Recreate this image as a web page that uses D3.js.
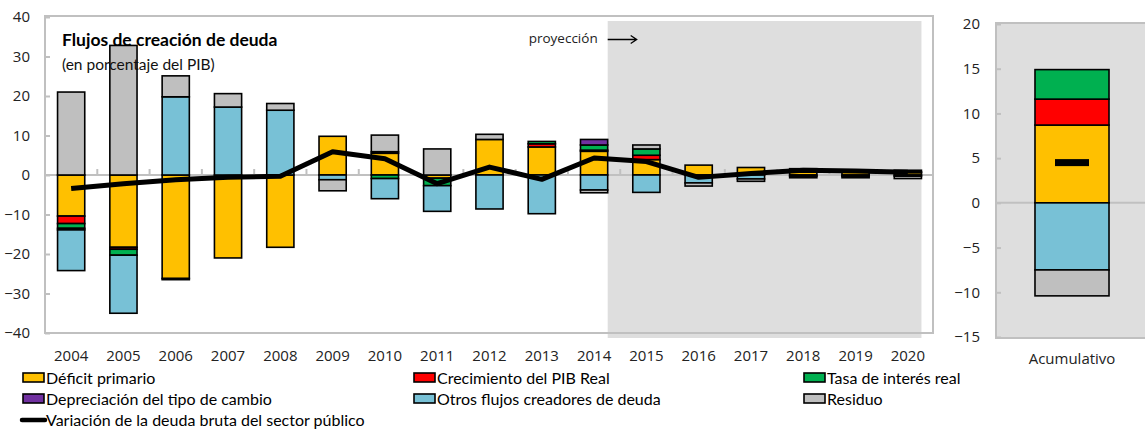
<!DOCTYPE html>
<html>
<head>
<meta charset="utf-8">
<script src="https://cdn.jsdelivr.net/npm/d3@7"></script>
<style>
  html, body { margin: 0; padding: 0; background: #fff; }
  svg { display: block; }
</style>
</head>
<body>
<svg id="chart" width="1145" height="429"></svg>
<script>
// Years on the category axis
const years = ["2004","2005","2006","2007","2008","2009","2010","2011","2012",
               "2013","2014","2015","2016","2017","2018","2019","2020"];
const projectionStart = "2015";

// Debt-creating flows, % of GDP
const deficitPrimario   = [-10.4,-18.3,-26.2,-21.0,-18.3, 9.8, 5.5,-0.8, 9.0, 7.1, 6.0, 3.9, 2.5, 1.9, 1.0, 0.8, 0.6];
const crecimientoPIB    = [ -1.9, -0.5, -0.3,  0.0,  0.0, 0.0, 0.4, 0.0, 0.0, 0.8, 0.3, 1.1, 0.0, 0.0, 0.3, 0.2, 0.2];
const tasaInteres       = [ -1.2, -1.5,  0.0,  0.0,  0.0, 0.0,-0.9,-1.9, 0.0, 0.6, 1.3, 1.6, 0.0, 0.0, 0.3, 0.2, 0.4];
const depreciacion      = [ -0.4,  0.0,  0.0,  0.0,  0.0, 0.0, 0.0, 0.0, 0.0, 0.0, 1.4, 0.0, 0.0, 0.0, 0.0, 0.0, 0.0];
const otrosFlujos       = [-10.3,-14.7, 19.8, 17.2, 16.4,-1.2,-5.1,-6.5,-8.6,-9.8,-3.8,-4.4,-2.0,-1.0,-0.3,-0.3,-0.3];
const residuo           = [ 21.0, 32.8,  5.3,  3.4,  1.7,-2.8, 4.2, 6.6, 1.3, 0.0,-0.7, 1.0,-0.8,-0.6,-0.4,-0.4,-0.6];
const variacionDeuda    = [ -3.4, -2.2, -1.2, -0.6, -0.3, 5.9, 4.1,-2.2, 2.0,-1.1, 4.3, 3.4,-0.6, 0.4, 1.2, 1.0, 0.7];

// Cumulative panel
const acumCategory = ["Acumulativo"];
const acumDeficit = [8.7], acumCrecimiento = [2.9], acumTasa = [3.3],
      acumDepreciacion = [0.0], acumOtros = [-7.5], acumResiduo = [-2.9], acumVariacion = [4.5];

// Axis ticks
const yTicksLeft  = [-40,-30,-20,-10,0,10,20,30,40];
const yTicksRight = [-15,-10,-5,0,5,10,15,20];

// Series names and colours
const seriesKeys = ["Déficit primario","Crecimiento del PIB Real","Tasa de interés real",
                    "Depreciación del tipo de cambio","Otros flujos creadores de deuda","Residuo"];
const seriesColors = ["#FFC000","#FF0000","#00B050","#7030A0","#78C1D6","#BFBFBF"];
const lineName = "Variación de la deuda bruta del sector público";
const titleText = "Flujos de creación  de deuda";
const subtitleText = "(en porcentaje del PIB)";
const projectionText = "proyección";

const svg = d3.select("#chart");
const color = d3.scaleOrdinal(seriesKeys, seriesColors);
const tickFont = "'Open Sans', 'Noto Sans', sans-serif";
const legendFont = "Lato, 'Noto Sans', sans-serif";
const tickSize = 15;
const frameGray = "#c0c0c0";
const bgGray = "#dedede";

function buildRows(cats, cols) {
  return cats.map((c, i) => {
    const row = { cat: c };
    seriesKeys.forEach((k, j) => row[k] = cols[j][i]);
    return row;
  });
}
const stack = d3.stack().keys(seriesKeys).offset(d3.stackOffsetDiverging);

// ---------- Left panel: annual flows ----------
const L = { left: 45, right: 934, top: 17, bottom: 333 };
const x = d3.scaleBand().domain(years).range([L.left, L.right]).paddingInner(0.48).paddingOuter(0.24);
const y = d3.scaleLinear().domain([-40, 40]).range([L.bottom, L.top]);

// shaded projection years
const projIdx = years.indexOf(projectionStart);
const shadeX0 = x(years[projIdx - 1]) + x.bandwidth();
const shadeX1 = x(years[years.length - 1]) + x.bandwidth();
svg.append("rect")
  .attr("x", shadeX0).attr("y", 21)
  .attr("width", shadeX1 - shadeX0).attr("height", 338 - 21)
  .attr("fill", bgGray);

// frame
svg.append("rect")
  .attr("x", L.left).attr("y", L.top - 1)
  .attr("width", 933 - L.left).attr("height", L.bottom - L.top + 1)
  .attr("fill", "none").attr("stroke", frameGray).attr("stroke-width", 2);

// y axis
const yAxisL = svg.append("g")
  .attr("transform", `translate(${L.left},0)`)
  .call(d3.axisLeft(y).tickValues(yTicksLeft).tickSize(-5).tickPadding(15).tickFormat(d3.format("d")));
yAxisL.select(".domain").remove();
yAxisL.selectAll(".tick line").attr("stroke", frameGray).attr("stroke-width", 2);
yAxisL.selectAll("text").attr("font-family", tickFont).attr("font-size", tickSize).attr("fill", "#222");

// zero line
svg.append("line")
  .attr("x1", L.left).attr("x2", 933)
  .attr("y1", y(0)).attr("y2", y(0))
  .attr("stroke", frameGray).attr("stroke-width", 2);

// category separators on the zero line
const halfGap = (x.step() - x.bandwidth()) / 2;
svg.append("g").selectAll("line")
  .data(years.slice(1))
  .join("line")
  .attr("x1", d => x(d) - halfGap).attr("x2", d => x(d) - halfGap)
  .attr("y1", y(0) - 6).attr("y2", y(0))
  .attr("stroke", frameGray).attr("stroke-width", 2);

// x axis labels
const xAxis = svg.append("g")
  .attr("transform", `translate(0,${L.bottom})`)
  .call(d3.axisBottom(x).tickSize(0).tickPadding(17));
xAxis.select(".domain").remove();
xAxis.selectAll("text").attr("font-family", tickFont).attr("font-size", tickSize).attr("fill", "#222");

// stacked bars
const stackedL = stack(buildRows(years,
  [deficitPrimario, crecimientoPIB, tasaInteres, depreciacion, otrosFlujos, residuo]));
svg.append("g").selectAll("g")
  .data(stackedL)
  .join("g")
  .attr("fill", d => color(d.key))
  .selectAll("rect")
  .data(d => d.filter(s => s[1] !== s[0]))
  .join("rect")
  .attr("x", d => x(d.data.cat))
  .attr("width", x.bandwidth())
  .attr("y", d => y(Math.max(d[0], d[1])))
  .attr("height", d => Math.abs(y(d[0]) - y(d[1])))
  .attr("stroke", "#000").attr("stroke-width", 1.6);

// debt change line
svg.append("path")
  .datum(variacionDeuda)
  .attr("fill", "none").attr("stroke", "#000").attr("stroke-width", 5)
  .attr("stroke-linejoin", "round")
  .attr("d", d3.line().x((d, i) => x(years[i]) + x.bandwidth() / 2).y(d => y(d)));

// titles
svg.append("text").attr("x", 62).attr("y", 46)
  .attr("font-family", legendFont).attr("font-weight", "bold").attr("font-size", 17.5)
  .attr("fill", "#000").text(titleText);
svg.append("text").attr("x", 62).attr("y", 70)
  .attr("font-family", legendFont).attr("font-size", 15.5)
  .attr("fill", "#111").text(subtitleText);

// projection annotation
svg.append("text").attr("x", shadeX0 - 10).attr("y", 43).attr("text-anchor", "end")
  .attr("font-family", tickFont).attr("font-size", 13.5).attr("fill", "#222").text(projectionText);
svg.append("path")
  .attr("d", `M${shadeX0},39.5 H${shadeX0 + 29} M${shadeX0 + 23},35.5 L${shadeX0 + 29},39.5 L${shadeX0 + 23},43.5`)
  .attr("fill", "none").attr("stroke", "#000").attr("stroke-width", 1.3);

// ---------- Right panel: cumulative ----------
const R = { left: 996, right: 1148, top: 24, bottom: 337 };
const x2 = d3.scaleBand().domain(acumCategory).range([R.left, R.right]).paddingInner(0.513).paddingOuter(0.2565);
const y2 = d3.scaleLinear().domain([-15, 20]).range([R.bottom, R.top]);

svg.append("rect")
  .attr("x", R.left).attr("y", 23)
  .attr("width", 1160 - R.left).attr("height", 338 - 23)
  .attr("fill", bgGray).attr("stroke", frameGray).attr("stroke-width", 2);

const yAxisR = svg.append("g")
  .attr("transform", `translate(${R.left},0)`)
  .call(d3.axisLeft(y2).tickValues(yTicksRight).tickSize(-5).tickPadding(16).tickFormat(d3.format("d")));
yAxisR.select(".domain").remove();
yAxisR.selectAll(".tick line").attr("stroke", frameGray).attr("stroke-width", 2);
yAxisR.selectAll("text").attr("font-family", tickFont).attr("font-size", tickSize).attr("fill", "#222");

svg.append("line")
  .attr("x1", R.left).attr("x2", 1145)
  .attr("y1", y2(0)).attr("y2", y2(0))
  .attr("stroke", frameGray).attr("stroke-width", 2);

const x2Axis = svg.append("g")
  .attr("transform", `translate(0,${R.bottom})`)
  .call(d3.axisBottom(x2).tickSize(0).tickPadding(16));
x2Axis.select(".domain").remove();
x2Axis.selectAll("text").attr("font-family", tickFont).attr("font-size", tickSize).attr("fill", "#222");

const stackedR = stack(buildRows(acumCategory,
  [acumDeficit, acumCrecimiento, acumTasa, acumDepreciacion, acumOtros, acumResiduo]));
svg.append("g").selectAll("g")
  .data(stackedR)
  .join("g")
  .attr("fill", d => color(d.key))
  .selectAll("rect")
  .data(d => d.filter(s => s[1] !== s[0]))
  .join("rect")
  .attr("x", d => x2(d.data.cat))
  .attr("width", x2.bandwidth())
  .attr("y", d => y2(Math.max(d[0], d[1])))
  .attr("height", d => Math.abs(y2(d[0]) - y2(d[1])))
  .attr("stroke", "#000").attr("stroke-width", 1.6);

// cumulative debt change marker
svg.append("g").selectAll("rect")
  .data(acumVariacion)
  .join("rect")
  .attr("x", (d, i) => x2(acumCategory[i]) + x2.bandwidth() / 2 - 17)
  .attr("width", 34)
  .attr("y", d => y2(d) - 3.5)
  .attr("height", 7)
  .attr("fill", "#000");

// ---------- Legend ----------
const colX = [22, 413, 803];
const rowY = [378, 399, 420];
const legend = svg.append("g");
seriesKeys.forEach((k, i) => {
  const gx = colX[i % 3], gy = rowY[Math.floor(i / 3)];
  legend.append("rect")
    .attr("x", gx + 1).attr("y", gy - 5)
    .attr("width", 21).attr("height", 9)
    .attr("fill", color(k)).attr("stroke", "#000").attr("stroke-width", 1.6);
  legend.append("text")
    .attr("x", gx + 24).attr("y", gy + 5.5)
    .attr("font-family", legendFont).attr("font-size", 16).attr("fill", "#000")
    .text(k);
});
legend.append("line")
  .attr("x1", colX[0]).attr("x2", colX[0] + 23)
  .attr("y1", rowY[2]).attr("y2", rowY[2])
  .attr("stroke", "#000").attr("stroke-width", 4.5).attr("stroke-linecap", "round");
legend.append("text")
  .attr("x", colX[0] + 24).attr("y", rowY[2] + 5.5)
  .attr("font-family", legendFont).attr("font-size", 16).attr("fill", "#000")
  .text(lineName);
</script>
</body>
</html>
